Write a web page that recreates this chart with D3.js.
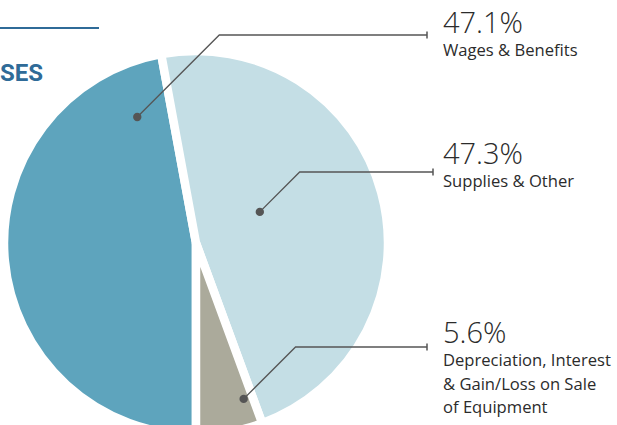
<!DOCTYPE html>
<html>
<head>
<meta charset="utf-8">
<script src="https://cdn.jsdelivr.net/npm/d3@7"></script>
<style>
  html, body { margin: 0; padding: 0; background: #fff; }
  svg { display: block; }
</style>
</head>
<body>
<div id="chart"></div>
<script>
// data
var categories = ["Wages & Benefits", "Supplies & Other", "Depreciation, Interest & Gain/Loss on Sale of Equipment"]
var values = [47.1, 47.3, 5.6]
var labelLines = [
  ["Wages & Benefits"],
  ["Supplies & Other"],
  ["Depreciation, Interest", "& Gain/Loss on Sale", "of Equipment"]
]
var colors = ["#5ea4bd", "#c4dee5", "#abaa9b"]

var width = 617, height = 425
var cx = 196, cy = 243, radius = 192

var svg = d3.select("#chart")
  .append("svg")
    .attr("width", width)
    .attr("height", height)

// title remnant (the rest of the heading sits off the page)
svg.append("line")
  .attr("x1", 0).attr("x2", 99)
  .attr("y1", 28).attr("y2", 28)
  .attr("stroke", "#2f6b98")
  .attr("stroke-width", 2.2)

svg.append("text")
  .attr("x", 0)
  .attr("y", 81)
  .attr("fill", "#2f6b98")
  .style("font-family", "Roboto, 'Open Sans', sans-serif")
  .style("font-weight", "700")
  .style("font-size", "24px")
  .text("SES")

var g = svg.append("g")
  .attr("transform", "translate(" + cx + "," + cy + ")")

// pie starts at the bottom and runs clockwise
var pie = d3.pie()
  .sort(null)
  .startAngle(Math.PI)
  .endAngle(3 * Math.PI)
  .value(function(d) { return d })

var arcs = pie(values)

var arc = d3.arc()
  .innerRadius(0)
  .outerRadius(radius)

g.selectAll("path")
  .data(arcs)
  .enter()
  .append("path")
    .attr("d", arc)
    .attr("fill", function(d, i) { return colors[i] })
    .attr("stroke", "#fff")
    .attr("stroke-width", 8.5)
    .attr("stroke-linejoin", "miter")

// callouts: dot placed in polar coords, 45 degree leader up to the label line
var callouts = [
  {angle: -25, r: 139, lineY: 35, lineEnd: 427, pctY: 33},
  {angle: 64, r: 71, lineY: 172, lineEnd: 433, pctY: 164},
  {angle: 163, r: 163, lineY: 347, lineEnd: 427, pctY: 343}
]
var textX = 443

callouts.forEach(function(c, i) {
  var p = d3.pointRadial(c.angle * Math.PI / 180, c.r)
  var dx = cx + p[0], dy = cy + p[1]
  var ex = dx + (dy - c.lineY)

  svg.append("polyline")
    .attr("points", [[dx, dy], [ex, c.lineY], [c.lineEnd, c.lineY]].map(function(q) { return q.join(",") }).join(" "))
    .attr("fill", "none")
    .attr("stroke", "#555")
    .attr("stroke-width", 1.3)

  svg.append("line")
    .attr("x1", c.lineEnd).attr("x2", c.lineEnd)
    .attr("y1", c.lineY - 3.5).attr("y2", c.lineY + 3.5)
    .attr("stroke", "#555")
    .attr("stroke-width", 1.5)

  svg.append("circle")
    .attr("cx", dx).attr("cy", dy)
    .attr("r", 4.2)
    .attr("fill", "#555")

  svg.append("text")
    .attr("x", textX)
    .attr("y", c.pctY)
    .attr("fill", "#2b2b2b")
    .style("font-family", "'Open Sans', sans-serif")
    .style("font-weight", "300")
    .style("font-size", "29px")
    .text(values[i].toFixed(1) + "%")

  var t = svg.append("text")
    .attr("x", textX)
    .attr("y", c.pctY + 23)
    .attr("fill", "#2b2b2b")
    .style("font-family", "'Open Sans', sans-serif")
    .style("font-size", "16.6px")

  labelLines[i].forEach(function(line, j) {
    t.append("tspan")
      .attr("x", textX)
      .attr("dy", j === 0 ? 0 : 23.5)
      .text(line)
  })
})
</script>
</body>
</html>
